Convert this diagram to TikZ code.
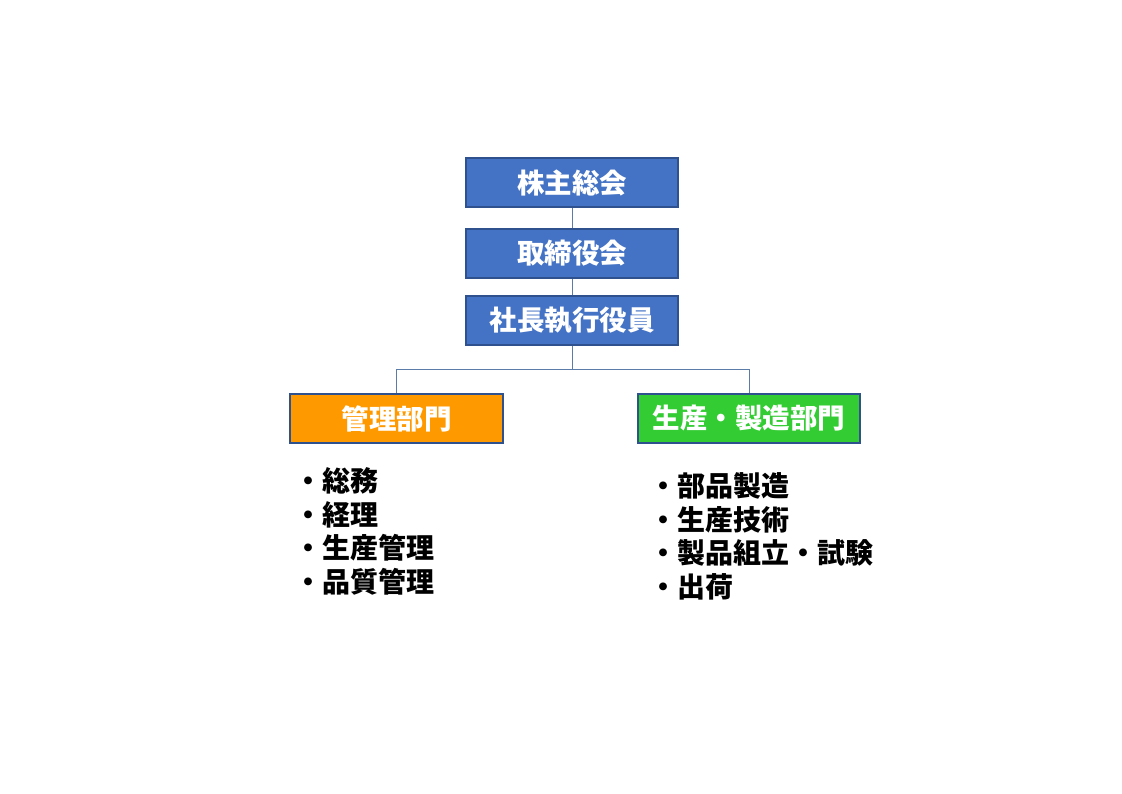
\documentclass[tikz,border=0pt]{standalone}
\usepackage{fontspec}
\newfontfamily\jpfont{Noto Sans CJK JP}
\definecolor{boxblue}{HTML}{4472C4}
\definecolor{boxline}{HTML}{2F528F}
\definecolor{boxorange}{HTML}{FF9900}
\definecolor{boxgreen}{HTML}{33CC33}
\definecolor{linkblue}{HTML}{5B7BA8}
\tikzset{
	orgbox/.style={draw=boxline, line width=1.2pt, minimum height=49pt, inner sep=0pt,
		text=white, font=\jpfont\bfseries\fontsize{27.5}{30}\selectfont},
	itemtext/.style={anchor=west, inner sep=0pt, font=\jpfont\bfseries\fontsize{28}{30}\selectfont},
	link/.style={draw=linkblue, line width=0.9pt}
}

\begin{document}
\begin{tikzpicture}[x=1pt, y=-1pt]
				\useasboundingbox[fill=white] (0, 0) rectangle (1122, 793);
				
				\node[orgbox, fill=boxblue, minimum width=212pt] (kabunushi) at (572, 182.5) {株主総会};
				\node[orgbox, fill=boxblue, minimum width=212pt] (torishimari) at (572, 253.5) {取締役会};
				\node[orgbox, fill=boxblue, minimum width=212pt] (shacho) at (572, 320.5) {社長執行役員};
				
				\node[orgbox, fill=boxorange, minimum width=213pt] (kanri) at (396.5, 418.5) {管理部門};
				\node[orgbox, fill=boxgreen, minimum width=222pt] (seizo) at (749, 418.5) {生産・製造部門};
				
				\coordinate (bunki) at (572, 369);
				
				\draw[link] (kabunushi) -- (torishimari);
				\draw[link] (torishimari) -- (shacho);
				\draw[link] (shacho) -- (bunki);
				\draw[link] (bunki) -| (kanri.north);
				\draw[link] (bunki) -| (seizo.north);
				
				\node[itemtext] (kanri1) at (294, 481) {・総務};
				\node[itemtext] (kanri2) at (294, 514.5) {・経理};
				\node[itemtext] (kanri3) at (294, 548) {・生産管理};
				\node[itemtext] (kanri4) at (294, 581.5) {・品質管理};
				
				\node[itemtext] (seizo1) at (649, 486) {・部品製造};
				\node[itemtext] (seizo2) at (649, 519.5) {・生産技術};
				\node[itemtext] (seizo3) at (649, 553) {・製品組立・試験};
				\node[itemtext] (seizo4) at (649, 586.5) {・出荷};
\end{tikzpicture}
\end{document}
